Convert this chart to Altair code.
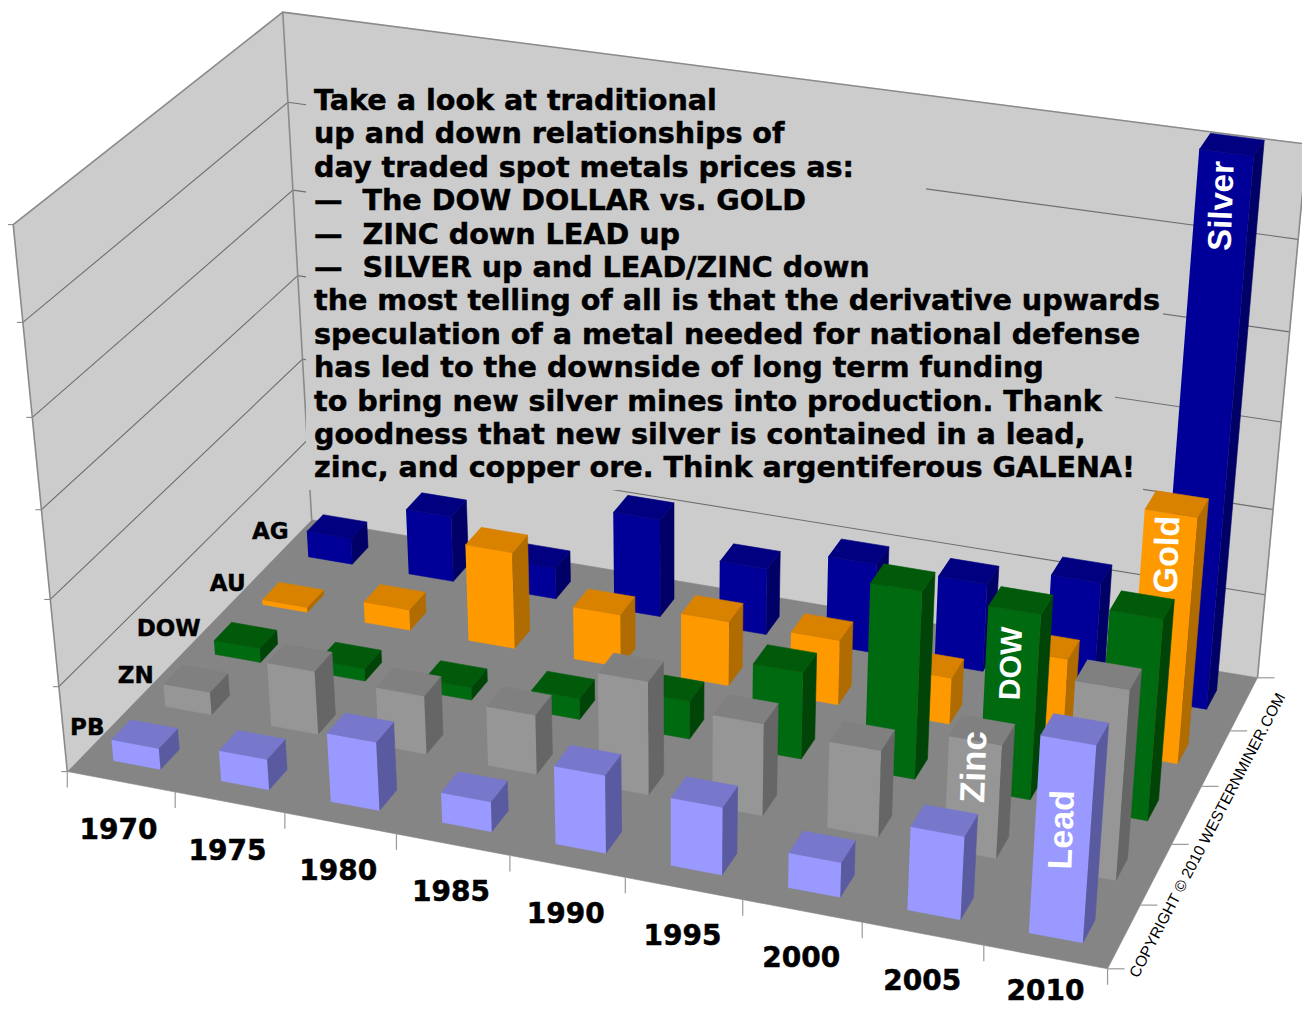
import numpy as np
import pandas as pd
import altair as alt

years = ["1970", "1975", "1980", "1985", "1990", "1995", "2000", "2005", "2010"]
series_names = ["AG", "AU", "DOW", "ZN", "PB"]
ag = [0.32, 0.8, 0.38, 1.18, 0.8, 1.07, 1.05, 1.28, 6.15]
au = [0.06, 0.25, 1.16, 0.63, 0.77, 0.77, 0.55, 1.0, 2.83]
dow = [0.17, 0.15, 0.15, 0.25, 0.45, 1.02, 2.17, 2.13, 2.3]
zn = [0.27, 0.75, 0.69, 0.7, 1.32, 1.07, 1.0, 1.3, 2.15]
pb = [0.25, 0.36, 0.8, 0.35, 0.9, 0.78, 0.4, 0.95, 2.2]
series_values = [ag, au, dow, zn, pb]
front_colors = ["#000099", "#FF9900", "#006A10", "#969696", "#9999FF"]
side_colors = ["#000066", "#B06C00", "#004408", "#666666", "#5A5AA0"]
top_colors = ["#000080", "#D98200", "#005A0A", "#808080", "#7777CC"]
series_titles = ["Silver", "Gold", "DOW", "Zinc", "Lead"]
text_lines = [
    "Take a look at traditional",
    "up and down relationships of",
    "day traded spot metals prices as:",
    "\u2014\u00a0\u00a0The DOW DOLLAR vs. GOLD",
    "\u2014\u00a0\u00a0ZINC down LEAD up",
    "\u2014\u00a0\u00a0SILVER up and LEAD/ZINC down",
    "the most telling of all is that the derivative upwards",
    "speculation of a metal needed for national defense",
    "has led to the downside of long term funding",
    "to bring new silver mines into production. Thank",
    "goodness that new silver is contained in a lead,",
    "zinc, and copper ore. Think argentiferous GALENA!",
]
copyright_text = "COPYRIGHT \u00a9 2010 WESTERNMINER.COM"

NX, NY, NZ = 9, 5, 6
# camera fitted to the chart box corners: (world) -> (picture)
world = [(0, 0, 0), (9, 0, 0), (9, 5, 0), (0, 5, 0), (0, 0, 6), (0, 5, 6), (9, 5, 6)]
pict = [(68, 771), (1107, 970), (1258, 676), (311, 521), (13, 224), (283, 12), (1307, 145)]
A, b = [], []
for (X_, Y_, Z_), (u, v) in zip(world, pict):
    A.append([X_, Y_, Z_, 1, 0, 0, 0, 0, -u * X_, -u * Y_, -u * Z_]); b.append(u)
    A.append([0, 0, 0, 0, X_, Y_, Z_, 1, -v * X_, -v * Y_, -v * Z_]); b.append(v)
P = np.append(np.linalg.lstsq(np.array(A, float), np.array(b, float), rcond=None)[0], 1).reshape(3, 4)


def proj(x, y, z):
    q = P @ np.array([x, y, z, 1.0])
    return q[0] / q[2], q[1] / q[2]


BX0, BX1, BY0, BY1 = 0.28, 0.72, 0.30, 0.66
bar_polys = []
for s, vals in enumerate(series_values):
    j = NY - 1 - s
    for i, v in enumerate(vals):
        x0, x1, y0, y1 = i + BX0, i + BX1, j + BY0, j + BY1
        bar_polys += [
            ([(x0, y0, 0), (x1, y0, 0), (x1, y0, v), (x0, y0, v)], front_colors[s]),
            ([(x1, y0, 0), (x1, y1, 0), (x1, y1, v), (x1, y0, v)], side_colors[s]),
            ([(x0, y0, v), (x1, y0, v), (x1, y1, v), (x0, y1, v)], top_colors[s]),
        ]


def frame(rows):
    out = []
    for n, (pts, color) in enumerate(rows):
        for k, p in enumerate(pts):
            x, y = proj(*p)
            out.append({"pid": n, "k": k, "x": x, "y": y, "c": color})
    return pd.DataFrame(out)


W, H = 1294, 999
xs = alt.Scale(domain=[8, 8 + W], range=[0, W], zero=False, nice=False)
ys = alt.Scale(domain=[8, 8 + H], range=[0, H], zero=False, nice=False)
X = alt.X("x:Q", scale=xs, axis=None)
Y = alt.Y("y:Q", scale=ys, axis=None)


def fill_layer(rows):
    return alt.Chart(frame(rows)).mark_line(filled=True, strokeWidth=0.6).encode(
        x=X, y=Y, order="k:Q", detail="pid:N",
        color=alt.Color("c:N", scale=None), stroke=alt.Stroke("c:N", scale=None))


def line_layer(rows, width, color):
    return alt.Chart(frame([(r, color) for r in rows])).mark_line(strokeWidth=width, color=color).encode(
        x=X, y=Y, order="k:Q", detail="pid:N")


def seg_layer(anchors, dx, dy, width, color):
    """short tick marks: from a projected anchor, a fixed pixel offset"""
    rows = []
    for n, a in enumerate(anchors):
        x, y = proj(*a)
        rows.append({"pid": n, "k": 0, "x": x, "y": y})
        rows.append({"pid": n, "k": 1, "x": x + dx, "y": y + dy})
    return alt.Chart(pd.DataFrame(rows)).mark_line(strokeWidth=width, color=color).encode(
        x=X, y=Y, order="k:Q", detail="pid:N")


WALL = "#CCCCCC"
walls = fill_layer([
    ([(0, 0, 0), (0, NY, 0), (0, NY, NZ), (0, 0, NZ)], WALL),
    ([(0, NY, 0), (NX, NY, 0), (NX, NY, NZ), (0, NY, NZ)], WALL),
])
grid = line_layer([[(0, 0, z), (0, NY, z), (NX, NY, z)] for z in range(1, NZ)], 1.1, "#6E6E6E")
left_ticks = seg_layer([(0, 0, z) for z in range(0, NZ + 1)], -6, 0, 1.1, "#8A8A8A")
edges = line_layer([
    [(0, 0, 0), (0, 0, NZ), (0, NY, NZ), (NX, NY, NZ), (NX, NY, 0)],
    [(0, NY, 0), (0, NY, NZ)],
], 1.6, "#8A8A8A")

# the paragraph sits on an opaque wall-coloured box that interrupts the grid lines
box_x0 = [306, 306, 306, 306, 306, 306, 306, 306]
box_x1 = [888, 926, 960, 1163, 1060, 1115, 1115, 1143]
box_y0 = [95, 183, 216, 283, 350, 383, 416, 450]
box_y1 = [183, 216, 283, 350, 383, 416, 450, 490]
masks = alt.Chart(pd.DataFrame({"x": box_x0, "x2": box_x1, "y": box_y0, "y2": box_y1})).mark_rect(color=WALL).encode(
    x=X, x2="x2:Q", y=Y, y2="y2:Q")

para = alt.Chart(pd.DataFrame({"t": text_lines, "x": [314] * 12, "y": [101 + 33.4 * i for i in range(12)]})).mark_text(
    font="DejaVu Sans", fontWeight="bold", fontSize=28.6, align="left", baseline="middle", color="black",
    stroke="black", strokeWidth=0.5
).encode(x=X, y=Y, text="t:N")

floor = fill_layer([([(0, 0, 0), (NX, 0, 0), (NX, NY, 0), (0, NY, 0)], "#858585")])
year_ticks = seg_layer([(i, 0, 0) for i in range(NX + 1)], 0, 16, 1.2, "#9A9A9A")
depth_ticks = seg_layer([(NX, j, 0) for j in range(NY + 1)], 17, 0, 1.2, "#9A9A9A")

bars = fill_layer(bar_polys)

yl = []
for i, yr in enumerate(years):
    x, y = proj(i + 0.5, -0.62, 0)
    t = i / (NX - 1)
    yl.append({"t": yr, "x": x + 31 - 9 * t, "y": min(y + 14 - 7 * t, 992)})
year_labels = alt.Chart(pd.DataFrame(yl)).mark_text(
    font="DejaVu Sans", fontWeight="bold", fontSize=28, color="black", baseline="middle",
    stroke="black", strokeWidth=0.5).encode(x=X, y=Y, text="t:N")

sl = []
label_dy = [3, 9, 6, 3, 2]
for s, name in enumerate(series_names):
    x, y = proj(-0.12, NY - 1 - s + 0.5, 0)
    sl.append({"t": name, "x": x + 13 - 2 + 3 * s, "y": y - 12 - 1 * s + label_dy[s]})
series_labels = alt.Chart(pd.DataFrame(sl)).mark_text(
    font="DejaVu Sans", fontWeight="bold", fontSize=23, color="black", align="right", baseline="middle",
    stroke="black", strokeWidth=0.4
).encode(x=X, y=Y, text="t:N")

tl = []
for s, (name, v, z, fs) in enumerate(zip(series_titles, [8, 8, 7, 7, 8], [5.6, 2.37, 1.53, 1.0, 1.22], [33, 34, 30, 35, 34])):
    x, y = proj(v + 0.5, NY - 1 - s + BY0, z)
    tl.append({"t": name, "x": x, "y": y, "fs": fs})
title_labels = alt.Chart(pd.DataFrame(tl)).mark_text(
    font="Liberation Sans", fontWeight="bold", color="white", angle=272, baseline="middle"
).encode(x=X, y=Y, text="t:N", size=alt.Size("fs:Q", scale=None))

cx, cy = proj(NX + 0.25, NY / 2, 0)
copy_label = alt.Chart(pd.DataFrame({"t": [copyright_text], "x": [cx - 9], "y": [cy + 15]})).mark_text(
    font="Liberation Sans", fontSize=15.5, color="black", angle=297.6, baseline="middle"
).encode(x=X, y=Y, text="t:N")

chart = alt.layer(walls, grid, left_ticks, edges, masks, para, floor, year_ticks, depth_ticks, bars, year_labels, series_labels, title_labels, copy_label).properties(
    width=W, height=H, padding=0, autosize=alt.AutoSizeParams(type="none")
).configure_view(stroke=None)
chart.save("out.html", embed_options={"renderer": "svg", "actions": False})
